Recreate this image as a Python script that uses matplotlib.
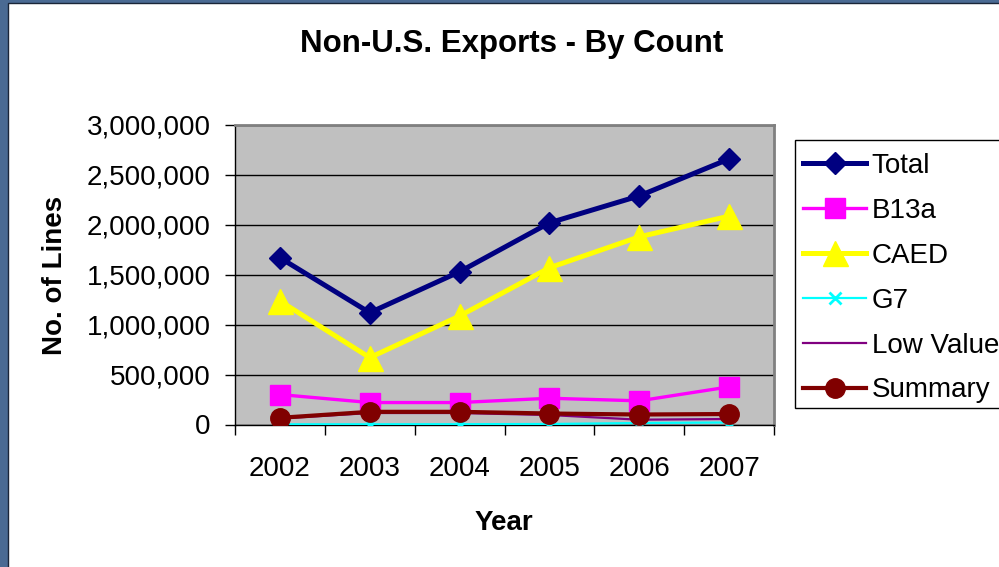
import numpy as np
import matplotlib.pyplot as plt
from matplotlib.patches import Rectangle
from matplotlib.ticker import FuncFormatter, FixedLocator

plt.rcParams['font.family'] = ['Liberation Sans', 'DejaVu Sans']

# data
years = ['2002', '2003', '2004', '2005', '2006', '2007']
total = [1670000, 1120000, 1530000, 2020000, 2290000, 2660000]
b13a = [300000, 220000, 220000, 263000, 237000, 377000]
caed = [1237000, 670000, 1087000, 1570000, 1880000, 2087000]
g7 = [2000, 2000, 3000, 5000, 15000, 20000]
low_value = [60000, 115000, 115000, 95000, 48000, 55000]
summary = [67000, 127000, 127000, 110000, 100000, 105000]

W, H = 999, 567
fig = plt.figure(figsize=(W / 100, H / 100), dpi=100, facecolor='#4a6a93')

# white slide area with thin dark outline
bg = Rectangle((8 / W, -0.1), 1.2, 1.1 - 3 / H, transform=fig.transFigure,
               facecolor='white', edgecolor='#1a2538', lw=1, zorder=-10)
fig.patches.append(bg)

ax = fig.add_axes([235 / W, 1 - 424.5 / H, 539 / W, 299.5 / H])
ax.set_facecolor('#c0c0c0')
x = np.arange(len(years))

ax.plot(x, total, color='#000080', lw=3.6, marker='D', ms=11.5, label='Total', zorder=5)
ax.plot(x, b13a, color='#ff00ff', lw=2.4, marker='s', ms=14, label='B13a', zorder=4)
ax.plot(x, caed, color='#ffff00', lw=3.6, marker='^', ms=18, label='CAED', zorder=4)
ax.plot(x, g7, color='#00ffff', lw=1.6, marker='x', ms=9, mew=2, label='G7', zorder=3)
ax.plot(x, low_value, color='#800080', lw=1.6, label='Low Value', zorder=3)
ax.plot(x, summary, color='#800000', lw=3, marker='o', ms=14, label='Summary', zorder=4)

ax.set_xlim(-0.5, 5.5)
ax.set_ylim(0, 3000000)
ax.set_yticks(np.arange(0, 3000001, 500000))
ax.yaxis.set_major_formatter(FuncFormatter(lambda v, p: '{:,.0f}'.format(v)))
ax.set_xticks(x)
ax.set_xticklabels(years)
ax.xaxis.set_minor_locator(FixedLocator(np.arange(-0.5, 6, 1)))
ax.tick_params(axis='x', which='major', length=0, pad=23, labelsize=20)
ax.tick_params(axis='x', which='minor', length=7, width=1, color='black', direction='out')
ax.tick_params(axis='y', length=7, width=1, color='black', direction='out', pad=10.5, labelsize=20)

ax.set_axisbelow(True)
ax.yaxis.grid(True, color='black', lw=1)
for s in ['top', 'right']:
    ax.spines[s].set_color('#808080')
    ax.spines[s].set_linewidth(2)
for s in ['left', 'bottom']:
    ax.spines[s].set_color('black')
    ax.spines[s].set_linewidth(1)

fig.text(512 / W, 1 - 44 / H, 'Non-U.S. Exports - By Count', ha='center', va='center',
         fontsize=22.5, fontweight='bold')
fig.text(504 / W, 1 - 523 / H, 'Year', ha='center', va='center', fontsize=20, fontweight='bold')
fig.text(55 / W, 1 - 275 / H, 'No. of Lines', ha='center', va='center', rotation=90,
         fontsize=20, fontweight='bold')

# legend box runs past the right edge, as in the original slide
box = Rectangle((795 / W, 1 - 408 / H), 0.3, 268 / H, transform=fig.transFigure,
                facecolor='white', edgecolor='black', lw=1, zorder=1)
fig.patches.append(box)
leg = fig.legend(loc='upper left', bbox_to_anchor=(803 / W, 1 - 153 / H), fontsize=20,
                 frameon=False, borderaxespad=0, borderpad=0, labelspacing=0.68,
                 handlelength=2.27, handletextpad=0.2, numpoints=1)
leg.set_zorder(2)

plt.savefig('out.png', dpi=100, facecolor=fig.get_facecolor())
